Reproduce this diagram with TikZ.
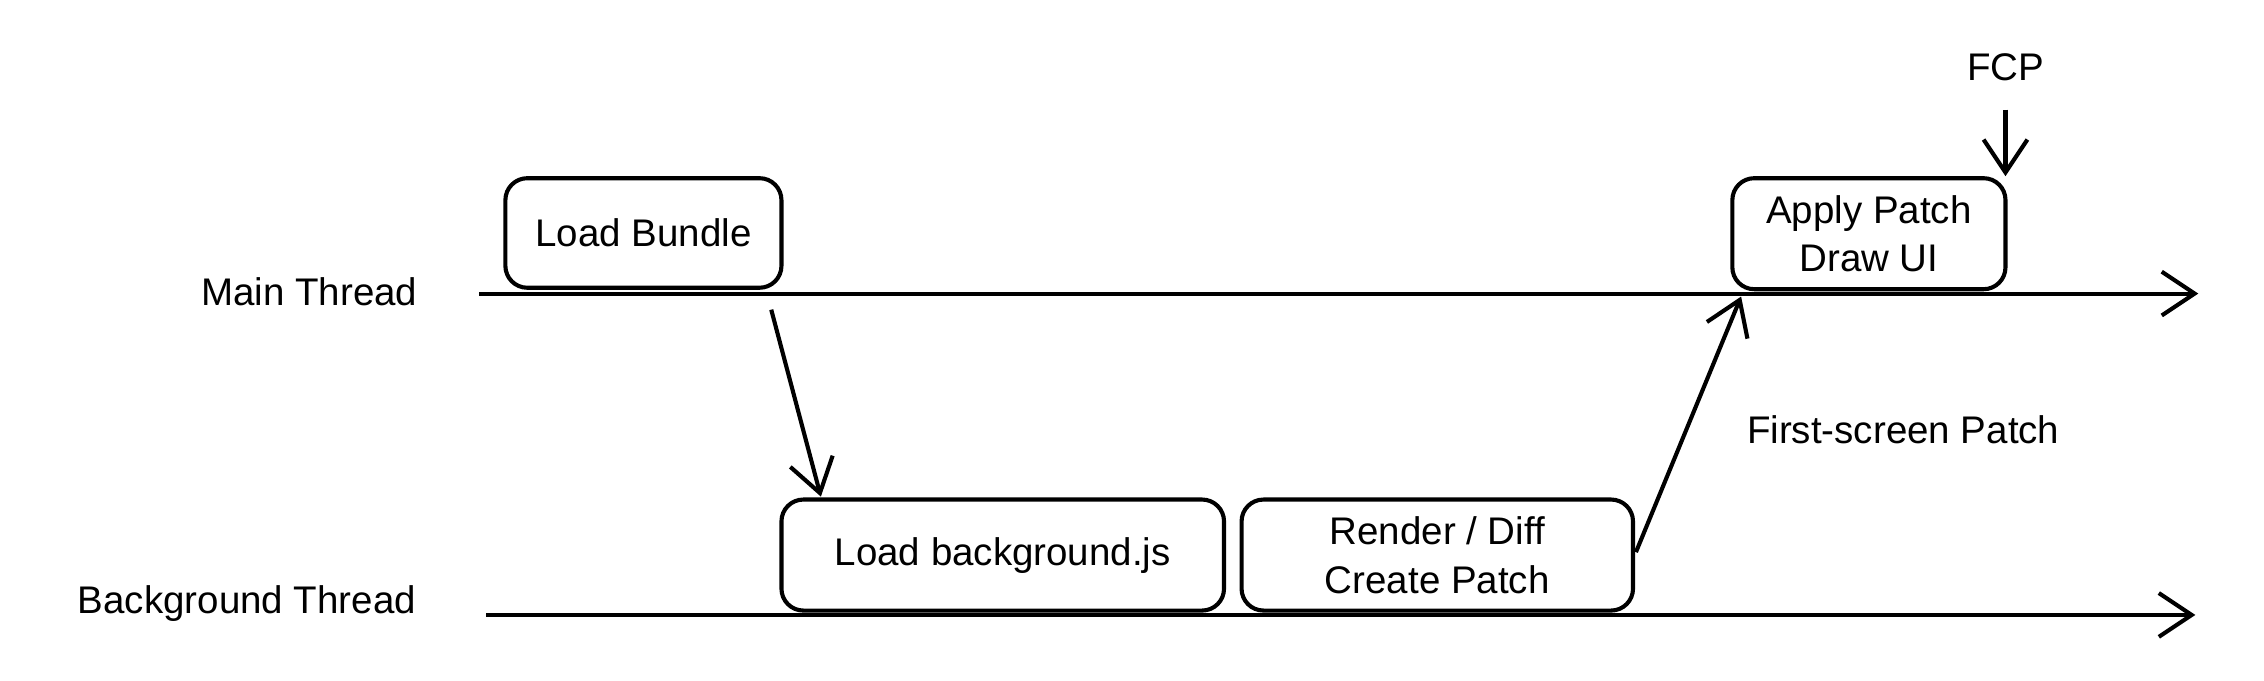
\documentclass[tikz,border=0pt]{standalone}
\usepackage{fontspec}
\setmainfont{Liberation Sans}
\usetikzlibrary{arrows.meta}
\begin{document}
\begin{tikzpicture}[x=0.02cm,y=-0.02cm,
  box/.style={draw,line width=1.6pt,rounded corners=0.3cm,align=center,font=\fontsize{15}{19}\selectfont,inner sep=0pt},
  lbl/.style={font=\fontsize{15}{19}\selectfont},
  arr/.style={line width=1.6pt,-{Straight Barb[length=0.45cm,width=0.6cm]}}]
\useasboundingbox (0,0) rectangle (1550,466);
\node[lbl,anchor=east] (mt) at (292,200) {Main Thread};
\node[lbl,anchor=east] (bt) at (291,413) {Background Thread};
\coordinate (m0) at (328,201); \coordinate (m1) at (1505,201);
\coordinate (b0) at (333,421); \coordinate (b1) at (1503,421);
\draw[arr] (m0) -- (m1);
\draw[arr] (b0) -- (b1);
\node[box,minimum width=189*0.02cm,minimum height=75*0.02cm] (lb) at (440.5,159.5) {Load Bundle};
\node[box,minimum width=303*0.02cm,minimum height=76*0.02cm] (lbg) at (686.5,380) {Load background.js};
\node[box,minimum width=268*0.02cm,minimum height=76*0.02cm] (rd) at (984,380) {Render / Diff\\Create Patch};
\node[box,minimum width=187*0.02cm,minimum height=76*0.02cm] (ap) at (1279.5,160) {Apply Patch\\Draw UI};
\node[lbl] (fcp) at (1373,46) {FCP};
\draw[arr] (1373,75) -- (ap.north east -| 1373,0) ;
\draw[arr] (528,212) -- (562,340);
\draw[arr] (1120,378) -- (1192,203);
\node[lbl] (fsp) at (1303,294) {First-screen Patch};
\end{tikzpicture}
\end{document}
